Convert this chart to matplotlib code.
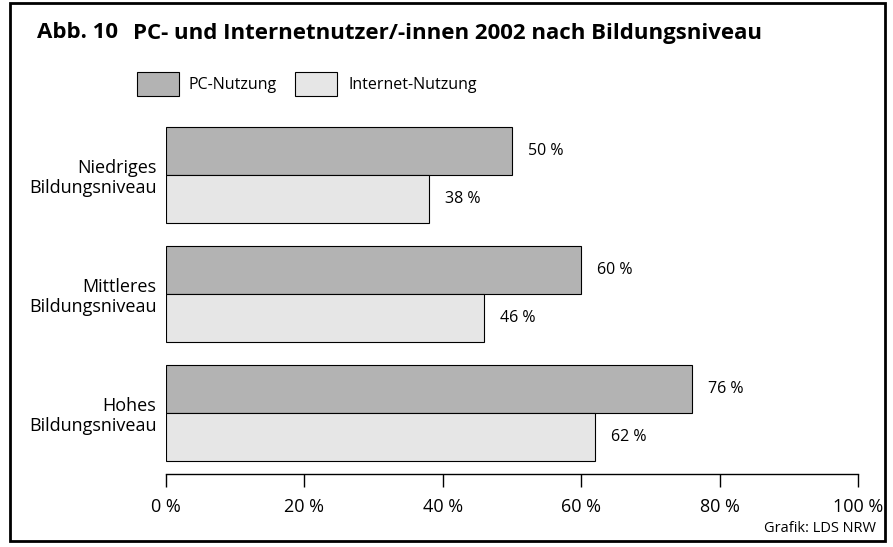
import matplotlib
matplotlib.use('Agg')

import matplotlib.pyplot as plt
from matplotlib.patches import Rectangle
import numpy as np

plt.rcParams['font.family'] = ['Open Sans', 'DejaVu Sans']

categories = ['Niedriges\nBildungsniveau', 'Mittleres\nBildungsniveau', 'Hohes\nBildungsniveau']
pc = [50, 60, 76]
internet = [38, 46, 62]
names = ['PC-Nutzung', 'Internet-Nutzung']
colors = ['#b3b3b3', '#e6e6e6']
xticks = [0, 20, 40, 60, 80, 100]
xticklabels = ['0 %', '20 %', '40 %', '60 %', '80 %', '100 %']

W, H = 893, 547
fig = plt.figure(figsize=(W / 100, H / 100), dpi=100)

def fx(px):
    return px / W

def fy(py):
    return 1 - py / H

# outer frame
fig.patches.append(Rectangle((fx(10), fy(541)), 875 / W, 538 / H, transform=fig.transFigure,
                             fill=False, edgecolor='black', linewidth=2))

fig.text(fx(37), fy(33), 'Abb. 10', fontsize=16, fontweight='bold', va='center', ha='left')
fig.text(fx(133), fy(33), 'PC- und Internetnutzer/-innen 2002 nach Bildungsniveau',
         fontsize=16, fontweight='bold', va='center', ha='left')

# legend
for i, (x0, tx) in enumerate([(137, 189), (295, 349)]):
    fig.patches.append(Rectangle((fx(x0), fy(96)), 42 / W, 24 / H, transform=fig.transFigure,
                                 facecolor=colors[i], edgecolor='black', linewidth=0.8))
    fig.text(fx(tx), fy(85), names[i], fontsize=11.5, va='center', ha='left')

left, right, top, bottom = 166, 858, 115, 474
ax = fig.add_axes([fx(left), fy(bottom), (right - left) / W, (bottom - top) / H])

y = np.arange(len(categories))
h = 0.403
ax.barh(y - h / 2, pc, height=h, color=colors[0], edgecolor='black', linewidth=0.8)
ax.barh(y + h / 2, internet, height=h, color=colors[1], edgecolor='black', linewidth=0.8)

for i in range(len(categories)):
    ax.text(pc[i] + 2.3, y[i] - h / 2, '%d %%' % pc[i], va='center', ha='left', fontsize=11.5)
    ax.text(internet[i] + 2.3, y[i] + h / 2, '%d %%' % internet[i], va='center', ha='left', fontsize=11.5)

ax.set_xlim(0, 100)
ax.set_ylim(2.513, -0.504)
ax.set_yticks(y)
ax.set_yticklabels(categories, fontsize=13, ha='right', linespacing=1.15)
ax.tick_params(axis='y', length=0, pad=7)
ax.set_xticks(xticks)
ax.set_xticklabels(xticklabels, fontsize=13)
ax.tick_params(axis='x', direction='out', length=9, width=1, pad=8)
for s in ['top', 'right', 'left']:
    ax.spines[s].set_visible(False)
ax.spines['bottom'].set_linewidth(1)

fig.text(fx(876), fy(529), 'Grafik: LDS NRW', fontsize=10.5, ha='right', va='center')

plt.savefig('out.png', dpi=100)
plt.close('all')
